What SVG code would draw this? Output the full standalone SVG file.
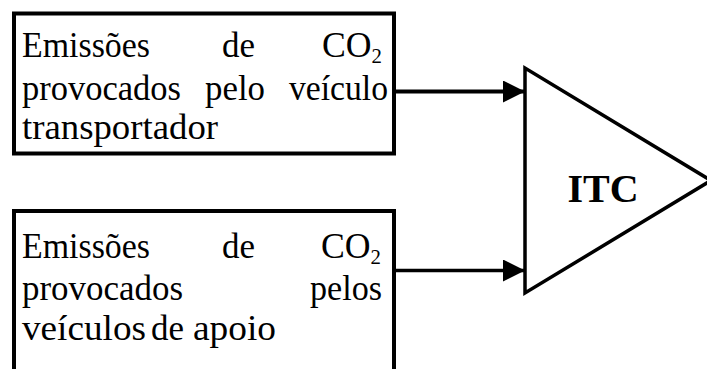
<svg xmlns="http://www.w3.org/2000/svg" width="707" height="369" viewBox="0 0 707 369">
  <style>
    .box { fill: #fff; stroke: #000; stroke-width: 4; }
    .tri { fill: #fff; stroke: #000; stroke-width: 3.5; stroke-linejoin: miter; }
    .lbl { font-size: 36px; font-weight: normal; fill: #000; }
    .sub { font-size: 21px; }
    .title { font-size: 40px; font-weight: bold; fill: #000; }
    .wire { stroke: #000; fill: none; }
  </style>
  <defs>
    <marker id="head" viewBox="0 0 22 22" refX="22" refY="11" markerWidth="22" markerHeight="22" markerUnits="userSpaceOnUse" orient="auto">
      <path d="M0,0 L22,11 L0,22 Z" fill="#000"/>
    </marker>
  </defs>

  <g id="connectors">
    <line class="wire" x1="396" y1="91.5" x2="525" y2="91.5" stroke-width="4" marker-end="url(#head)"/>
    <line class="wire" x1="396" y1="270.5" x2="525" y2="270.5" stroke-width="3.5" marker-end="url(#head)"/>
  </g>

  <g font-family="'Liberation Serif', 'Times New Roman', serif">
    <g id="emissoes-transportador">
      <rect class="box" x="14" y="13.5" width="380" height="140"/>
      <text class="lbl" x="22" y="57" textLength="128" lengthAdjust="spacingAndGlyphs">Emissões</text>
      <text class="lbl" x="222" y="57" textLength="33" lengthAdjust="spacingAndGlyphs">de</text>
      <text class="lbl" x="322" y="57" textLength="60" lengthAdjust="spacingAndGlyphs">CO<tspan class="sub" dy="6">2</tspan></text>
      <text class="lbl" x="22" y="100" textLength="159" lengthAdjust="spacingAndGlyphs">provocados</text>
      <text class="lbl" x="205" y="100" textLength="60" lengthAdjust="spacingAndGlyphs">pelo</text>
      <text class="lbl" x="289" y="100" textLength="99" lengthAdjust="spacingAndGlyphs">veículo</text>
      <text class="lbl" x="22" y="139" textLength="196" lengthAdjust="spacingAndGlyphs">transportador</text>
    </g>

    <g id="emissoes-apoio">
      <rect class="box" x="14" y="211" width="380" height="170"/>
      <text class="lbl" x="22" y="258" textLength="128" lengthAdjust="spacingAndGlyphs">Emissões</text>
      <text class="lbl" x="222" y="258" textLength="33" lengthAdjust="spacingAndGlyphs">de</text>
      <text class="lbl" x="321" y="258" textLength="60" lengthAdjust="spacingAndGlyphs">CO<tspan class="sub" dy="6">2</tspan></text>
      <text class="lbl" x="22" y="300" textLength="161" lengthAdjust="spacingAndGlyphs">provocados</text>
      <text class="lbl" x="310" y="300" textLength="72" lengthAdjust="spacingAndGlyphs">pelos</text>
      <text class="lbl" x="22" y="340" textLength="124" lengthAdjust="spacingAndGlyphs">veículos</text>
      <text class="lbl" x="151" y="340" textLength="33" lengthAdjust="spacingAndGlyphs">de</text>
      <text class="lbl" x="193" y="340" textLength="83" lengthAdjust="spacingAndGlyphs">apoio</text>
    </g>

    <g id="itc">
      <polygon class="tri" points="525,68 525,293 711,180.5"/>
      <text class="title" x="603" y="202" text-anchor="middle">ITC</text>
    </g>
  </g>
</svg>
